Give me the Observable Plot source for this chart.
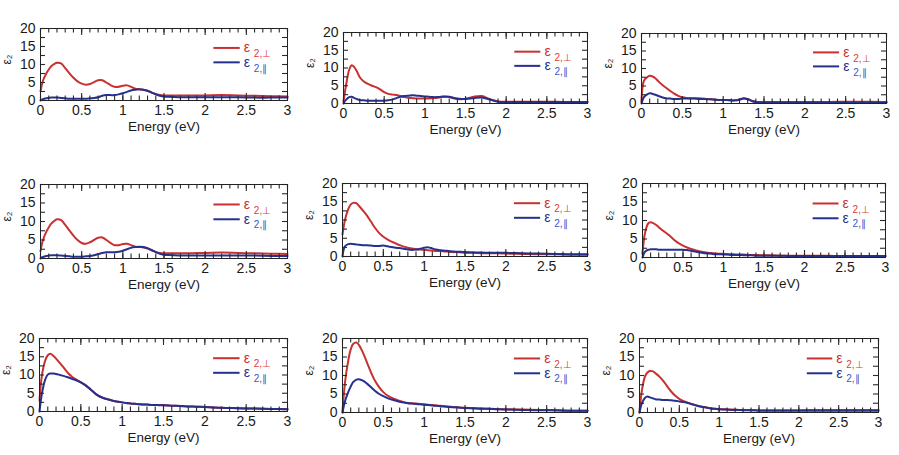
<!DOCTYPE html>
<html>
<head>
<meta charset="utf-8">
<script src="https://cdn.jsdelivr.net/npm/d3@7"></script>
<script src="https://cdn.jsdelivr.net/npm/@observablehq/plot@0.6"></script>
<style>
  html, body { margin: 0; padding: 0; background: #fff; }
  #wrap { position: relative; width: 899px; height: 455px; overflow: hidden; background: #fff; }
  .panel { position: absolute; }
</style>
</head>
<body>
<div id="wrap"></div>
<script>
// ---- Data ----
const energy = [0, 0.03, 0.07, 0.1, 0.13, 0.17, 0.2, 0.25, 0.3, 0.35,
  0.4, 0.45, 0.5, 0.55, 0.6, 0.65, 0.7, 0.75, 0.8, 0.85,
  0.9, 0.95, 1.0, 1.05, 1.1, 1.15, 1.2, 1.25, 1.3, 1.35,
  1.4, 1.45, 1.5, 1.6, 1.7, 1.8, 1.9, 2.0, 2.2, 2.4,
  2.6, 2.8, 3.0];

const p1Perp = [2.5, 5.5, 7.5, 8.6, 9.5, 10.2, 10.5, 10.3, 9.0, 7.6,
  6.3, 5.3, 4.7, 4.4, 4.6, 5.1, 5.6, 5.6, 5.0, 4.3,
  3.8, 3.8, 4.1, 4.2, 3.8, 3.3, 3.1, 3.0, 2.7, 2.2,
  1.8, 1.5, 1.4, 1.4, 1.4, 1.4, 1.4, 1.4, 1.5, 1.4,
  1.3, 1.2, 1.1];
const p1Par = [0, 0.4, 0.6, 0.7, 0.8, 0.8, 0.8, 0.7, 0.6, 0.5,
  0.5, 0.5, 0.5, 0.5, 0.6, 0.7, 0.9, 1.3, 1.5, 1.5,
  1.5, 1.7, 2.0, 2.4, 2.8, 3.0, 3.1, 3.0, 2.7, 2.2,
  1.7, 1.3, 1.1, 1.0, 0.9, 0.9, 0.9, 0.9, 0.9, 0.9,
  0.8, 0.8, 0.8];

const p2Perp = [0.5, 5.0, 9.5, 10.8, 10.3, 8.8, 7.4, 6.2, 5.5, 5.0,
  4.6, 4.0, 3.2, 2.7, 2.5, 2.4, 2.1, 1.8, 1.6, 1.5,
  1.4, 1.4, 1.4, 1.4, 1.5, 1.6, 1.8, 1.9, 1.8, 1.5,
  1.3, 1.2, 1.3, 1.9, 2.1, 1.2, 0.6, 0.5, 0.5, 0.5,
  0.5, 0.4, 0.4];
const p2Par = [0, 1.0, 1.8, 1.9, 1.6, 1.2, 1.0, 0.9, 0.8, 0.8,
  0.8, 0.8, 0.8, 0.9, 1.1, 1.5, 1.9, 2.1, 2.2, 2.3,
  2.2, 2.1, 2.0, 1.9, 1.8, 1.8, 1.9, 2.0, 1.9, 1.6,
  1.4, 1.3, 1.3, 1.5, 1.7, 1.1, 0.5, 0.4, 0.4, 0.4,
  0.4, 0.4, 0.4];

const p3Perp = [0.5, 6.5, 7.5, 7.9, 7.8, 7.2, 6.5, 5.4, 4.5, 3.6,
  2.8, 2.2, 1.8, 1.6, 1.5, 1.5, 1.5, 1.4, 1.3, 1.2,
  1.1, 1.0, 1.0, 1.0, 0.9, 0.9, 1.2, 1.5, 1.3, 0.8,
  0.5, 0.4, 0.4, 0.4, 0.4, 0.4, 0.4, 0.4, 0.4, 0.5,
  0.5, 0.5, 0.4];
const p3Par = [0, 1.8, 2.6, 2.9, 2.8, 2.5, 2.2, 1.8, 1.5, 1.4,
  1.3, 1.3, 1.4, 1.4, 1.4, 1.4, 1.3, 1.3, 1.2, 1.2,
  1.1, 1.0, 1.0, 1.0, 0.9, 0.9, 1.1, 1.4, 1.2, 0.7,
  0.4, 0.3, 0.3, 0.3, 0.3, 0.3, 0.3, 0.3, 0.3, 0.3,
  0.3, 0.3, 0.3];

const p4Perp = [2.0, 5.0, 7.2, 8.4, 9.4, 10.2, 10.6, 10.4, 9.1, 7.6,
  6.2, 5.0, 4.2, 4.0, 4.4, 5.0, 5.6, 5.7, 5.0, 4.2,
  3.6, 3.6, 3.9, 4.0, 3.6, 3.2, 3.1, 3.0, 2.7, 2.2,
  1.8, 1.5, 1.4, 1.4, 1.4, 1.4, 1.5, 1.5, 1.6, 1.5,
  1.4, 1.3, 1.2];
const p4Par = [0, 0.4, 0.7, 0.8, 0.9, 0.9, 0.9, 0.8, 0.7, 0.6,
  0.5, 0.5, 0.5, 0.6, 0.7, 0.9, 1.2, 1.5, 1.7, 1.7,
  1.7, 1.8, 2.1, 2.5, 2.9, 3.1, 3.2, 3.1, 2.8, 2.3,
  1.7, 1.3, 1.0, 0.9, 0.8, 0.8, 0.8, 0.8, 0.8, 0.8,
  0.8, 0.7, 0.7];

const p5Perp = [6.0, 10.0, 13.0, 14.2, 14.7, 14.6, 13.9, 12.6, 11.2, 9.5,
  7.8, 6.4, 5.4, 4.7, 4.1, 3.6, 3.1, 2.7, 2.4, 2.2,
  2.0, 1.9, 1.8, 1.7, 1.6, 1.5, 1.5, 1.4, 1.3, 1.2,
  1.2, 1.1, 1.0, 1.0, 0.9, 0.9, 0.9, 0.8, 0.7, 0.6,
  0.6, 0.5, 0.5];
const p5Par = [0, 2.8, 3.4, 3.5, 3.4, 3.3, 3.2, 3.1, 3.1, 3.0,
  2.9, 2.9, 3.0, 2.8, 2.6, 2.4, 2.3, 2.1, 1.9, 1.8,
  1.9, 2.1, 2.4, 2.5, 2.2, 1.9, 1.7, 1.6, 1.5, 1.4,
  1.3, 1.3, 1.2, 1.1, 1.1, 1.0, 1.0, 1.0, 0.9, 0.8,
  0.7, 0.6, 0.6];

const p6Perp = [1.0, 6.5, 9.2, 9.5, 9.3, 8.8, 8.2, 7.3, 6.5, 5.6,
  4.6, 3.8, 3.2, 2.7, 2.3, 2.0, 1.7, 1.5, 1.3, 1.2,
  1.1, 1.0, 1.0, 0.9, 0.9, 0.8, 0.8, 0.8, 0.7, 0.7,
  0.7, 0.6, 0.6, 0.6, 0.5, 0.5, 0.5, 0.5, 0.5, 0.4,
  0.4, 0.4, 0.4];
const p6Par = [0, 1.5, 2.1, 2.2, 2.2, 2.2, 2.1, 2.1, 2.1, 2.1,
  2.1, 2.1, 2.1, 2.0, 1.8, 1.6, 1.4, 1.2, 1.1, 1.0,
  0.9, 0.9, 0.8, 0.8, 0.7, 0.7, 0.7, 0.6, 0.6, 0.6,
  0.5, 0.5, 0.5, 0.5, 0.5, 0.4, 0.4, 0.4, 0.4, 0.4,
  0.4, 0.4, 0.4];

const p7Perp = [3.0, 10.0, 14.0, 15.4, 15.8, 15.2, 14.5, 13.2, 11.8, 10.4,
  9.4, 8.7, 8.0, 7.3, 6.4, 5.4, 4.5, 3.9, 3.5, 3.2,
  2.9, 2.7, 2.5, 2.3, 2.2, 2.1, 2.0, 1.9, 1.9, 1.8,
  1.8, 1.8, 1.7, 1.6, 1.5, 1.4, 1.3, 1.2, 1.0, 0.9,
  0.8, 0.7, 0.6];
const p7Par = [0, 5.0, 8.8, 10.1, 10.4, 10.4, 10.3, 10.0, 9.7, 9.3,
  8.9, 8.5, 8.0, 7.3, 6.4, 5.4, 4.5, 3.9, 3.5, 3.2,
  2.9, 2.7, 2.5, 2.3, 2.2, 2.1, 2.0, 1.9, 1.9, 1.8,
  1.8, 1.7, 1.7, 1.6, 1.5, 1.4, 1.3, 1.2, 1.0, 0.9,
  0.8, 0.7, 0.6];

const p8Perp = [0, 8.0, 14.0, 17.0, 18.5, 18.9, 18.3, 16.2, 13.5, 10.8,
  8.5, 6.8, 5.5, 4.6, 4.0, 3.5, 3.1, 2.8, 2.6, 2.5,
  2.4, 2.3, 2.2, 2.1, 2.0, 1.9, 1.8, 1.7, 1.6, 1.5,
  1.4, 1.3, 1.3, 1.2, 1.1, 1.0, 0.9, 0.9, 0.8, 0.7,
  0.6, 0.5, 0.5];
const p8Par = [0, 3.0, 5.5, 7.0, 8.2, 8.9, 9.0, 8.6, 7.8, 6.8,
  5.8, 5.0, 4.4, 3.9, 3.5, 3.2, 2.9, 2.7, 2.5, 2.4,
  2.3, 2.2, 2.1, 2.0, 1.9, 1.8, 1.7, 1.6, 1.5, 1.4,
  1.4, 1.3, 1.2, 1.1, 1.0, 1.0, 0.9, 0.8, 0.7, 0.6,
  0.6, 0.5, 0.5];

const p9Perp = [0, 6.0, 9.8, 10.8, 11.2, 11.1, 10.6, 9.7, 8.5, 7.0,
  5.6, 4.5, 3.7, 3.1, 2.7, 2.3, 2.0, 1.7, 1.5, 1.3,
  1.1, 1.0, 0.9, 0.9, 0.8, 0.8, 0.8, 0.7, 0.7, 0.7,
  0.6, 0.6, 0.6, 0.6, 0.6, 0.6, 0.6, 0.6, 0.7, 0.7,
  0.7, 0.7, 0.7];
const p9Par = [0, 2.5, 4.0, 4.3, 4.1, 3.8, 3.6, 3.5, 3.4, 3.4,
  3.3, 3.2, 3.0, 2.8, 2.6, 2.3, 2.0, 1.7, 1.5, 1.3,
  1.1, 1.0, 0.9, 0.8, 0.8, 0.7, 0.7, 0.7, 0.6, 0.6,
  0.6, 0.6, 0.5, 0.5, 0.5, 0.5, 0.5, 0.5, 0.5, 0.5,
  0.5, 0.5, 0.5];

const xTickLabels = [0, 0.5, 1, 1.5, 2, 2.5, 3];
const xMinorTicks = d3.range(0, 31).map(i => i / 10);
const yTickLabels = [0, 5, 10, 15, 20];
const yMinorTicks = [0, 2.5, 5, 7.5, 10, 12.5, 15, 17.5, 20];
const seriesKeys = ["perp", "par"];
const legendSubs = ["2,\u22A5", "2,\u2225"];
const xLabel = "Energy (eV)";
const yLabel = "\u03B5\u2082";

const panels = [
  [p1Perp, p1Par], [p2Perp, p2Par], [p3Perp, p3Par],
  [p4Perp, p4Par], [p5Perp, p5Par], [p6Perp, p6Par],
  [p7Perp, p7Par], [p8Perp, p8Par], [p9Perp, p9Par]
];

// ---- Layout (frame boxes: left, top, width, height) ----
const frames = [
  [40, 28, 247, 72], [343, 32, 244, 71], [641, 33, 245, 70],
  [40, 184, 247, 74], [342, 183, 245, 73], [642, 183, 243, 74],
  [39, 338, 248, 73], [342, 338, 245, 74], [639, 338, 239, 74]
];
const ML = 40, MR = 12, MT = 10, MB = 42;
const colors = {perp: "#c8312f", par: "#26318f"};
const subColors = {perp: "#d9403a", par: "#3a55c8"};
const FONT = "'Liberation Sans', Arial, Helvetica, sans-serif";
const X0 = 0, X1 = 3, Y0 = 0, Y1 = 20;

const wrap = document.getElementById("wrap");
panels.forEach(([perp, par], k) => {
  const [fl, ft, fw, fh] = frames[k];
  const rows = [];
  energy.forEach((e, i) => {
    rows.push({e, v: perp[i], s: "perp"});
    rows.push({e, v: par[i], s: "par"});
  });
  // pixel tick lengths converted to scale units
  const ux = (X1 - X0) / fw, uy = (Y1 - Y0) / fh;
  const legend = seriesKeys.map((s, i) => ({s, sub: legendSubs[i], ly: i === 0 ? 14.6 : 10.6}));
  const tickStyle = {stroke: "#2a2a2a", strokeWidth: 1.1};
  const chart = Plot.plot({
    width: fw + ML + MR,
    height: fh + MT + MB,
    marginLeft: ML, marginRight: MR, marginTop: MT, marginBottom: MB,
    x: {domain: [X0, X1]},
    y: {domain: [Y0, Y1]},
    style: {fontFamily: FONT, fontSize: "14px", color: "#1a1a1a", background: "transparent", overflow: "visible"},
    marks: [
      Plot.line(rows, {x: "e", y: "v", z: "s", stroke: d => colors[d.s], strokeWidth: 2, curve: "catmull-rom"}),
      // inward ticks on all four sides
      Plot.ruleX(xMinorTicks, {x: d => d, y1: Y0, y2: Y0 + 4.5 * uy, ...tickStyle}),
      Plot.ruleX(xMinorTicks, {x: d => d, y1: Y1 - 4.5 * uy, y2: Y1, ...tickStyle}),
      Plot.ruleX(xTickLabels, {x: d => d, y1: Y0, y2: Y0 + 7 * uy, ...tickStyle}),
      Plot.ruleX(xTickLabels, {x: d => d, y1: Y1 - 7 * uy, y2: Y1, ...tickStyle}),
      Plot.ruleY(yMinorTicks, {y: d => d, x1: X0, x2: X0 + 5 * ux, ...tickStyle}),
      Plot.ruleY(yMinorTicks, {y: d => d, x1: X1 - 5 * ux, x2: X1, ...tickStyle}),
      Plot.frame({stroke: "#222", strokeWidth: 1}),
      Plot.axisX({ticks: xTickLabels, tickSize: 0, tickPadding: 5, tickFormat: d => String(d), label: null, fontSize: 14}),
      Plot.axisY({ticks: yTickLabels, tickSize: 0, tickPadding: 5, tickFormat: d => String(d), label: null, fontSize: 14}),
      Plot.text([xLabel], {text: d => d, frameAnchor: "bottom", dy: 30, fontSize: 13.5, fill: "#1a1a1a"}),
      Plot.text([yLabel], {text: d => d, frameAnchor: "left", dx: -33, rotate: -90, fontSize: 12, fill: "#1a1a1a"}),
      // legend
      Plot.link(legend, {x1: () => 2.1, x2: () => 2.42, y1: "ly", y2: "ly", stroke: d => colors[d.s], strokeWidth: 2}),
      Plot.text(legend, {x: () => 2.47, y: "ly", text: () => "\u03B5", textAnchor: "start", fontSize: 14, fill: d => colors[d.s]}),
      Plot.text(legend, {x: () => 2.47, y: "ly", dx: 10, dy: 6, text: "sub", textAnchor: "start", fontSize: 10, fill: d => subColors[d.s]})
    ]
  });
  const div = document.createElement("div");
  div.className = "panel";
  div.style.left = (fl - ML) + "px";
  div.style.top = (ft - MT) + "px";
  div.appendChild(chart);
  wrap.appendChild(div);
});
</script>
</body>
</html>
